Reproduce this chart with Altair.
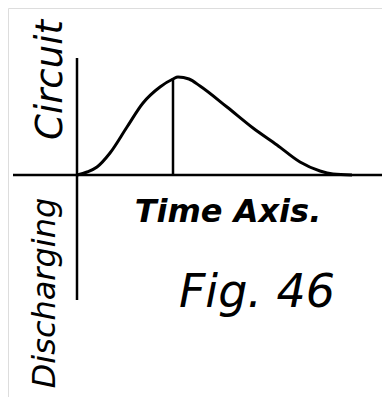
import altair as alt
import pandas as pd

# Curve (time, current); origin at the axes crossing
t_vals = [0, 10, 20, 33, 50, 66, 83, 96, 101, 112, 123, 150, 176, 200, 223, 243, 256, 275]
i_vals = [0, 3, 8, 22, 48, 72, 88, 96, 98, 96, 89, 68, 47, 30, 13, 4, 1, 0]

# Axes and peak ordinate
h_axis_t = [-64, 305]
v_axis_i = [117, -125]
peak_t = 96
peak_i = 97

labels = ["Circuit", "Discharging", "Time Axis.", "Fig. 46"]
label_t = [-26, -32, 151, 180]
label_i = [95, -118, -37, -118]
label_angle = [270, 270, 0, 0]
label_size = [37, 32, 32, 46]
label_weight = ["normal", "normal", "bold", "normal"]

xs = alt.Scale(domain=[-69, 305])
ys = alt.Scale(domain=[-222, 167])

curve_df = pd.DataFrame({"t": t_vals, "i": i_vals})
curve = alt.Chart(curve_df).mark_line(
    color="black", strokeWidth=3, interpolate="monotone"
).encode(
    x=alt.X("t:Q", scale=xs, axis=None),
    y=alt.Y("i:Q", scale=ys, axis=None),
)

haxis = alt.Chart(pd.DataFrame({"t": [h_axis_t[0]], "t2": [h_axis_t[1]], "i": [0]})).mark_rule(
    color="black", strokeWidth=2.5
).encode(x=alt.X("t:Q", scale=xs, axis=None), x2="t2:Q", y=alt.Y("i:Q", scale=ys, axis=None))

vaxis = alt.Chart(pd.DataFrame({"t": [0], "i": [v_axis_i[0]], "i2": [v_axis_i[1]]})).mark_rule(
    color="black", strokeWidth=2.5
).encode(x=alt.X("t:Q", scale=xs, axis=None), y=alt.Y("i:Q", scale=ys, axis=None), y2="i2:Q")

peak = alt.Chart(pd.DataFrame({"t": [peak_t], "i": [0], "i2": [peak_i]})).mark_rule(
    color="black", strokeWidth=2.5
).encode(x=alt.X("t:Q", scale=xs, axis=None), y=alt.Y("i:Q", scale=ys, axis=None), y2="i2:Q")

texts = []
for lab, tt, ii, ang, sz, wt in zip(labels, label_t, label_i, label_angle, label_size, label_weight):
    texts.append(
        alt.Chart(pd.DataFrame({"t": [tt], "i": [ii], "label": [lab]})).mark_text(
            font="DejaVu Sans", fontStyle="italic", fontWeight=wt, fontSize=sz,
            angle=ang, align="center", baseline="middle", color="black"
        ).encode(x=alt.X("t:Q", scale=xs, axis=None), y=alt.Y("i:Q", scale=ys, axis=None), text="label:N")
    )

chart = alt.layer(haxis, vaxis, peak, curve, *texts).properties(
    width=374, height=389, padding=0, autosize=alt.AutoSizeParams(type="none")
).configure_view(stroke=None).configure(background="white")

chart.save("out.html", embed_options={"renderer": "svg", "actions": False})
